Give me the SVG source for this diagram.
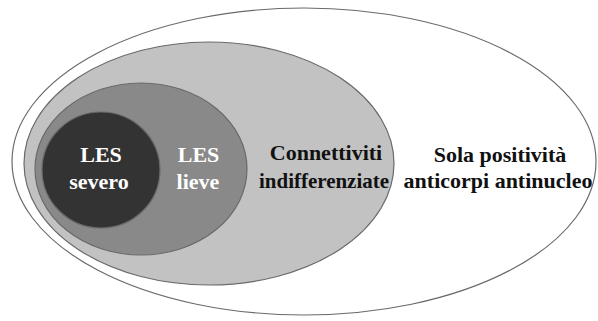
<svg xmlns="http://www.w3.org/2000/svg" width="598" height="321" viewBox="0 0 598 321">
<style>
.e{stroke:#6a6a6a;stroke-width:1.2}
.t{font-family:'Liberation Serif','Times New Roman',serif;font-weight:700;font-size:22px;text-anchor:middle}
.w{fill:#ffffff}
.k{fill:#111111}
</style>
<rect width="598" height="321" fill="#ffffff"/>
<g id="anticorpi">
<ellipse class="e" cx="304" cy="161.5" rx="292" ry="153.5" fill="#ffffff"/>
<text class="t k" x="500" y="162">Sola positività</text>
<text class="t k" x="498" y="188">anticorpi antinucleo</text>
</g>
<g id="connettiviti">
<ellipse class="e" cx="209" cy="163.5" rx="185" ry="121.5" fill="#c2c2c2"/>
<text class="t k" x="326" y="160">Connettiviti</text>
<text class="t k" x="324" y="188" textLength="130" lengthAdjust="spacingAndGlyphs">indifferenziate</text>
</g>
<g id="les-lieve">
<ellipse class="e" cx="141" cy="169" rx="106" ry="86" fill="#898989"/>
<text class="t w" x="198.5" y="162">LES</text>
<text class="t w" x="198" y="189">lieve</text>
</g>
<g id="les-severo">
<ellipse class="e" cx="101" cy="170" rx="59" ry="58" fill="#333333"/>
<text class="t w" x="101" y="162">LES</text>
<text class="t w" x="99" y="189">severo</text>
</g>
<g id="connectors"></g>
</svg>
